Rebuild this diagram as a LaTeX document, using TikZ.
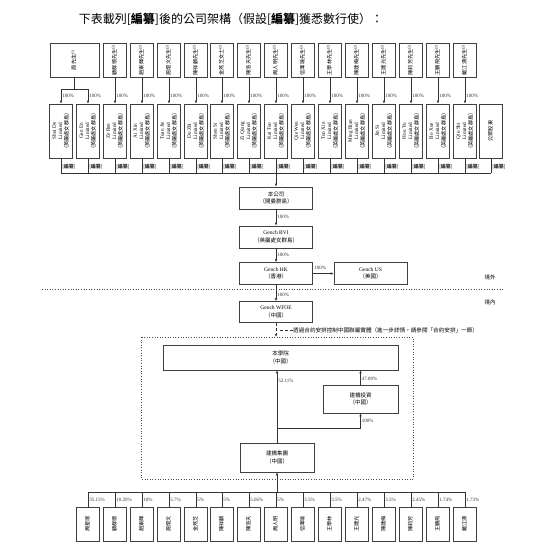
\documentclass[tikz,border=0pt]{standalone}
\usepackage{fontspec}
\setmainfont{Liberation Serif}
\newfontfamily\cjk{Noto Sans CJK TC}
\usepackage{graphicx}
\usetikzlibrary{arrows.meta}
\newcommand{\zh}[1]{{\cjk #1}}
\newcommand{\vlines}[1]{\rotatebox{90}{\begin{tabular}{@{}c@{}}#1\end{tabular}}}
\tikzset{
  person/.style={
    draw=black!75,
    line width=0.6pt,
    minimum width=22.5pt,
    minimum height=34pt,
    inner sep=0pt,
    font=\fontsize{5.2}{6.2}\selectfont
  },
  holdco/.style={person, minimum height=54pt},
  entity/.style={
    draw=black!75,
    line width=0.6pt,
    minimum width=73pt,
    minimum height=22pt,
    inner sep=1pt,
    align=center,
    font=\fontsize{5.5}{7.5}\selectfont
  },
  pct/.style={font=\fontsize{5}{6}\selectfont, inner sep=1pt, anchor=west},
  own/.style={-{Latex[length=3pt,width=2.4pt]}, line width=0.5pt, black!80},
  link/.style={line width=0.5pt, black!80},
  border/.style={black!70, line width=0.6pt, dotted}
}

\begin{document}
\begin{tikzpicture}[x=1pt,y=-1pt]
\useasboundingbox (0,0) rectangle (550,551);

% Titulo
\node[font=\cjk\fontsize{12}{14}\selectfont] (title) at (231,19)
  {下表載列[\textbf{編纂}]後的公司架構（假設[\textbf{編纂}]獲悉數行使）：};

% Accionistas individuales (fila superior)
\node[person, minimum width=49pt] (ownZhou) at (74.5,60) {\vlines{\zh{周先生}\textsuperscript{(1)}}};
\node[person] (ownZeRen) at (115,60) {\vlines{\zh{顧群懷先生}\textsuperscript{(2)}}};
\node[person] (ownAiXin) at (142,60) {\vlines{\zh{趙東輝先生}\textsuperscript{(2)}}};
\node[person] (ownTuanJie) at (169,60) {\vlines{\zh{施熠文先生}\textsuperscript{(2)}}};
\node[person] (ownDuZhi) at (196,60) {\vlines{\zh{陳祥麟先生}\textsuperscript{(2)}}};
\node[person] (ownShenSi) at (222,60) {\vlines{\zh{金燕芝女士}\textsuperscript{(2)}}};
\node[person] (ownZiQiang) at (249,60) {\vlines{\zh{陳浩天先生}\textsuperscript{(2)}}};
\node[person] (ownKaiTuo) at (276,60) {\vlines{\zh{周人明先生}\textsuperscript{(2)}}};
\node[person] (ownQieWen) at (303,60) {\vlines{\zh{信澤瑜先生}\textsuperscript{(2)}}};
\node[person] (ownTuoXin) at (330,60) {\vlines{\zh{王學林先生}\textsuperscript{(2)}}};
\node[person] (ownMingBian) at (357,60) {\vlines{\zh{陳建梅先生}\textsuperscript{(2)}}};
\node[person] (ownJinSi) at (384,60) {\vlines{\zh{王建光先生}\textsuperscript{(2)}}};
\node[person] (ownHouYu) at (411,60) {\vlines{\zh{陳莉芳先生}\textsuperscript{(2)}}};
\node[person] (ownBoXue) at (438,60) {\vlines{\zh{王鵬飛先生}\textsuperscript{(2)}}};
\node[person] (ownQiuShi) at (465,60) {\vlines{\zh{戴江濤先生}\textsuperscript{(2)}}};

% Sociedades BVI
\node[holdco] (shuiDe) at (61,131) {\vlines{Shui De\\Limited\\\zh{（英屬處女群島）}}};
\node[holdco] (ganEn) at (88,131) {\vlines{Gan En\\Limited\\\zh{（英屬處女群島）}}};
\node[holdco] (zeRen) at (115,131) {\vlines{Ze Ren\\Limited\\\zh{（英屬處女群島）}}};
\node[holdco] (aiXin) at (142,131) {\vlines{Ai Xin\\Limited\\\zh{（英屬處女群島）}}};
\node[holdco] (tuanJie) at (169,131) {\vlines{Tuan Jie\\Limited\\\zh{（英屬處女群島）}}};
\node[holdco] (duZhi) at (196,131) {\vlines{Du Zhi\\Limited\\\zh{（英屬處女群島）}}};
\node[holdco] (shenSi) at (222,131) {\vlines{Shen Si\\Limited\\\zh{（英屬處女群島）}}};
\node[holdco] (ziQiang) at (249,131) {\vlines{Zi Qiang\\Limited\\\zh{（英屬處女群島）}}};
\node[holdco] (kaiTuo) at (276,131) {\vlines{Kai Tuo\\Limited\\\zh{（英屬處女群島）}}};
\node[holdco] (qieWen) at (303,131) {\vlines{Qie Wen\\Limited\\\zh{（英屬處女群島）}}};
\node[holdco] (tuoXin) at (330,131) {\vlines{Tuo Xin\\Limited\\\zh{（英屬處女群島）}}};
\node[holdco] (mingBian) at (357,131) {\vlines{Ming Bian\\Limited\\\zh{（英屬處女群島）}}};
\node[holdco] (jinSi) at (384,131) {\vlines{Jin Si\\Limited\\\zh{（英屬處女群島）}}};
\node[holdco] (houYu) at (411,131) {\vlines{Hou Yu\\Limited\\\zh{（英屬處女群島）}}};
\node[holdco] (boXue) at (438,131) {\vlines{Bo Xue\\Limited\\\zh{（英屬處女群島）}}};
\node[holdco] (qiuShi) at (465,131) {\vlines{Qiu Shi\\Limited\\\zh{（英屬處女群島）}}};
\node[holdco] (publicS) at (491,131) {\vlines{\zh{公眾股東}}};

%周先生 -> dos sociedades
\coordinate (zhouSplit) at (74.5,89);
\draw[link] (ownZhou.south) -- (zhouSplit);
\draw[own] (zhouSplit) -| node[pct, pos=0.73]{100\%} (shuiDe.north);
\draw[own] (zhouSplit) -| node[pct, pos=0.73]{100\%} (ganEn.north);

% Resto de accionistas -> sociedades
\draw[own] (ownZeRen) -- node[pct, pos=0.7]{100\%} (zeRen);
\draw[own] (ownAiXin) -- node[pct, pos=0.7]{100\%} (aiXin);
\draw[own] (ownTuanJie) -- node[pct, pos=0.7]{100\%} (tuanJie);
\draw[own] (ownDuZhi) -- node[pct, pos=0.7]{100\%} (duZhi);
\draw[own] (ownShenSi) -- node[pct, pos=0.7]{100\%} (shenSi);
\draw[own] (ownZiQiang) -- node[pct, pos=0.7]{100\%} (ziQiang);
\draw[own] (ownKaiTuo) -- node[pct, pos=0.7]{100\%} (kaiTuo);
\draw[own] (ownQieWen) -- node[pct, pos=0.7]{100\%} (qieWen);
\draw[own] (ownTuoXin) -- node[pct, pos=0.7]{100\%} (tuoXin);
\draw[own] (ownMingBian) -- node[pct, pos=0.7]{100\%} (mingBian);
\draw[own] (ownJinSi) -- node[pct, pos=0.7]{100\%} (jinSi);
\draw[own] (ownHouYu) -- node[pct, pos=0.7]{100\%} (houYu);
\draw[own] (ownBoXue) -- node[pct, pos=0.7]{100\%} (boXue);
\draw[own] (ownQiuShi) -- node[pct, pos=0.7]{100\%} (qiuShi);

% Barra comun hacia la Compania
\coordinate (topBusL) at (61,173);
\coordinate (topBusR) at (491,173);
\draw[link] (topBusL) -- (topBusR);
\draw[link] (shuiDe.south) -- node[pct, pos=0.6]{\zh{[\textbf{編纂}]}} (shuiDe.south |- topBusL);
\draw[link] (ganEn.south) -- node[pct, pos=0.6]{\zh{[\textbf{編纂}]}} (ganEn.south |- topBusL);
\draw[link] (zeRen.south) -- node[pct, pos=0.6]{\zh{[\textbf{編纂}]}} (zeRen.south |- topBusL);
\draw[link] (aiXin.south) -- node[pct, pos=0.6]{\zh{[\textbf{編纂}]}} (aiXin.south |- topBusL);
\draw[link] (tuanJie.south) -- node[pct, pos=0.6]{\zh{[\textbf{編纂}]}} (tuanJie.south |- topBusL);
\draw[link] (duZhi.south) -- node[pct, pos=0.6]{\zh{[\textbf{編纂}]}} (duZhi.south |- topBusL);
\draw[link] (shenSi.south) -- node[pct, pos=0.6]{\zh{[\textbf{編纂}]}} (shenSi.south |- topBusL);
\draw[link] (ziQiang.south) -- node[pct, pos=0.6]{\zh{[\textbf{編纂}]}} (ziQiang.south |- topBusL);
\draw[link] (kaiTuo.south) -- node[pct, pos=0.6]{\zh{[\textbf{編纂}]}} (kaiTuo.south |- topBusL);
\draw[link] (qieWen.south) -- node[pct, pos=0.6]{\zh{[\textbf{編纂}]}} (qieWen.south |- topBusL);
\draw[link] (tuoXin.south) -- node[pct, pos=0.6]{\zh{[\textbf{編纂}]}} (tuoXin.south |- topBusL);
\draw[link] (mingBian.south) -- node[pct, pos=0.6]{\zh{[\textbf{編纂}]}} (mingBian.south |- topBusL);
\draw[link] (jinSi.south) -- node[pct, pos=0.6]{\zh{[\textbf{編纂}]}} (jinSi.south |- topBusL);
\draw[link] (houYu.south) -- node[pct, pos=0.6]{\zh{[\textbf{編纂}]}} (houYu.south |- topBusL);
\draw[link] (boXue.south) -- node[pct, pos=0.6]{\zh{[\textbf{編纂}]}} (boXue.south |- topBusL);
\draw[link] (qiuShi.south) -- node[pct, pos=0.6]{\zh{[\textbf{編纂}]}} (qiuShi.south |- topBusL);
\draw[link] (publicS.south) -- node[pct, pos=0.6]{\zh{[\textbf{編纂}]}} (publicS.south |- topBusL);

% Cadena offshore
\node[entity] (company) at (276,198) {\zh{本公司}\\\zh{（開曼群島）}};
\node[entity] (gbvi) at (276,237) {Gench BVI\\\zh{（英屬處女群島）}};
\node[entity] (ghk) at (276,273.5) {Gench HK\\\zh{（香港）}};
\node[entity] (gus) at (370.5,273.5) {Gench US\\\zh{（美國）}};
\node[entity, minimum height=21pt] (gwfoe) at (276,312) {Gench WFOE\\\zh{（中國）}};

\draw[own] (company.north |- topBusL) -- (company.north);
\draw[own] (company) -- node[pct, pos=0.45]{100\%} (gbvi);
\draw[own] (gbvi) -- node[pct, pos=0.45]{100\%} (ghk);
\draw[own] (ghk) -- node[above=0.5pt, font=\fontsize{5}{6}\selectfont, pos=0.35]{100\%} (gus);
\draw[own] (ghk) -- node[pct, pos=0.62]{100\%} (gwfoe);

% Linea de frontera
\coordinate (divW) at (42,289);
\coordinate (divE) at (503,289);
\draw[border] (divW) -- (divE);
\node[font=\cjk\fontsize{5.5}{6}\selectfont] (offshore) at (490,277) {境外};
\node[font=\cjk\fontsize{5.5}{6}\selectfont] (onshore) at (490,302) {境內};

% Entidades consolidadas
\coordinate (vieNW) at (141,337);
\coordinate (vieSE) at (413,479);
\draw[border] (vieNW) rectangle (vieSE);
\draw[own, densely dashed] (gwfoe.south) -- (gwfoe.south |- vieNW);
\coordinate (noteL) at (280,330);
\node[anchor=west, inner sep=0pt, font=\cjk\fontsize{5.6}{6}\selectfont] (note) at (293,330)
  {透過合約安排控制中國聯屬實體（進一步詳情，請參閱「合約安排」一節）};
\draw[link, densely dashed] (noteL) -- (note.west);

\node[entity, minimum width=235pt, minimum height=25pt] (school) at (280.5,357.5) {\zh{本學院}\\\zh{（中國）}};
\node[entity, minimum width=75pt, minimum height=28pt] (jqInvest) at (360.5,399) {\zh{建橋投資}\\\zh{（中國）}};
\node[entity, minimum width=74pt, minimum height=29pt] (jqGroup) at (277,457.5) {\zh{建橋集團}\\\zh{（中國）}};

\draw[own] (jqGroup.north) -- node[pct, pos=0.86]{52.11\%} (jqGroup.north |- school.south);
\draw[own] (jqInvest.north) -- node[pct, pos=0.4]{47.89\%} (jqInvest.north |- school.south);
\coordinate (branch) at (277,428);
\draw[own] (branch) -| node[pct, pos=0.73]{100\%} (jqInvest.south);

% Accionistas de 建橋集團 (fila inferior)
\node[person] (bZhou) at (88,524) {\vlines{\zh{周星增}}};
\node[person] (bGu) at (115,524) {\vlines{\zh{顧群懷}}};
\node[person] (bZhao) at (142,524) {\vlines{\zh{趙東輝}}};
\node[person] (bShi) at (169,524) {\vlines{\zh{施熠文}}};
\node[person] (bJin) at (196,524) {\vlines{\zh{金燕芝}}};
\node[person] (bChenX) at (222,524) {\vlines{\zh{陳祥麟}}};
\node[person] (bChenH) at (249,524) {\vlines{\zh{陳浩天}}};
\node[person] (bZhouR) at (276,524) {\vlines{\zh{周人明}}};
\node[person] (bXin) at (303,524) {\vlines{\zh{信澤瑜}}};
\node[person] (bWangX) at (330,524) {\vlines{\zh{王學林}}};
\node[person] (bWangJ) at (357,524) {\vlines{\zh{王建光}}};
\node[person] (bChenJ) at (384,524) {\vlines{\zh{陳建梅}}};
\node[person] (bChenL) at (411,524) {\vlines{\zh{陳莉芳}}};
\node[person] (bWangP) at (438,524) {\vlines{\zh{王鵬飛}}};
\node[person] (bDai) at (465,524) {\vlines{\zh{戴江濤}}};

\coordinate (botBusL) at (88,492);
\coordinate (botBusR) at (465,492);
\draw[link] (botBusL) -- (botBusR);
\draw[own] (jqGroup.south |- botBusL) -- (jqGroup.south);
\draw[link] (bZhou.north |- botBusL) -- node[pct, pos=0.55]{35.15\%} (bZhou.north);
\draw[link] (bGu.north |- botBusL) -- node[pct, pos=0.55]{10.20\%} (bGu.north);
\draw[link] (bZhao.north |- botBusL) -- node[pct, pos=0.55]{10\%} (bZhao.north);
\draw[link] (bShi.north |- botBusL) -- node[pct, pos=0.55]{5.7\%} (bShi.north);
\draw[link] (bJin.north |- botBusL) -- node[pct, pos=0.55]{5\%} (bJin.north);
\draw[link] (bChenX.north |- botBusL) -- node[pct, pos=0.55]{5\%} (bChenX.north);
\draw[link] (bChenH.north |- botBusL) -- node[pct, pos=0.55]{5.06\%} (bChenH.north);
\draw[link] (bZhouR.north |- botBusL) -- node[pct, pos=0.55]{5\%} (bZhouR.north);
\draw[link] (bXin.north |- botBusL) -- node[pct, pos=0.55]{3.5\%} (bXin.north);
\draw[link] (bWangX.north |- botBusL) -- node[pct, pos=0.55]{3.5\%} (bWangX.north);
\draw[link] (bWangJ.north |- botBusL) -- node[pct, pos=0.55]{2.47\%} (bWangJ.north);
\draw[link] (bChenJ.north |- botBusL) -- node[pct, pos=0.55]{3.5\%} (bChenJ.north);
\draw[link] (bChenL.north |- botBusL) -- node[pct, pos=0.55]{2.45\%} (bChenL.north);
\draw[link] (bWangP.north |- botBusL) -- node[pct, pos=0.55]{1.74\%} (bWangP.north);
\draw[link] (bDai.north |- botBusL) -- node[pct, pos=0.55]{1.73\%} (bDai.north);

\end{tikzpicture}
\end{document}
